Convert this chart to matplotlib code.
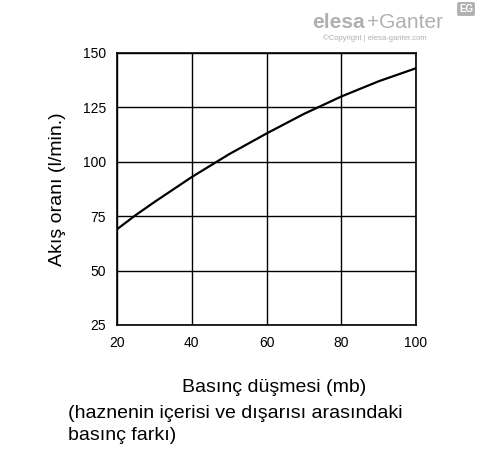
import numpy as np
import matplotlib.pyplot as plt

plt.rcParams['font.family'] = ['Liberation Sans', 'DejaVu Sans']

# curve
pressure = [20, 25, 30, 40, 50, 60, 70, 80, 90, 100]
flow = [69, 75.5, 81.5, 93, 103.5, 113, 122, 130, 137, 143]

fig = plt.figure(figsize=(4.88, 4.54), dpi=100)
ax = fig.add_axes([117 / 488, 1 - 325 / 454, 299 / 488, 272 / 454])
ax.plot(pressure, flow, color='k', lw=1.6)
ax.set_xlim(20, 100)
ax.set_ylim(25, 150)
ax.set_xticks([20, 40, 60, 80, 100])
ax.set_yticks([25, 50, 75, 100, 125, 150])
ax.grid(True, color='k', lw=1)
for s in ax.spines.values():
    s.set_linewidth(1.2)
ax.tick_params(length=0, labelsize=10, pad=8)
ax.set_ylabel('Akış oranı (l/min.)', fontsize=14, labelpad=12)

fig.text(182 / 488, 1 - 388 / 454, 'Basınç düşmesi (mb)', fontsize=14, va='center')
fig.text(68 / 488, 1 - 413 / 454, '(haznenin içerisi ve dışarısı arasındaki', fontsize=14, va='center')
fig.text(68 / 488, 1 - 436 / 454, 'basınç farkı)', fontsize=14, va='center')

# logo
fig.text(365 / 488, 1 - 22 / 454, 'elesa', fontsize=15, weight='bold', color='#b0b0b0',
         va='center', ha='right')
fig.text(367 / 488, 1 - 22 / 454, '+Ganter', fontsize=15, color='#b0b0b0', va='center')
fig.text(323 / 488, 1 - 38 / 454, '©Copyright | elesa-ganter.com', fontsize=5.5, color='#b0b0b0', va='center')
fig.text(459 / 488, 1 - 9 / 454, 'EG', fontsize=7, weight='bold', color='white', va='center',
         bbox=dict(boxstyle='round,pad=0.2', fc='#b0b0b0', ec='none'))

fig.savefig('out.png', dpi=100)
